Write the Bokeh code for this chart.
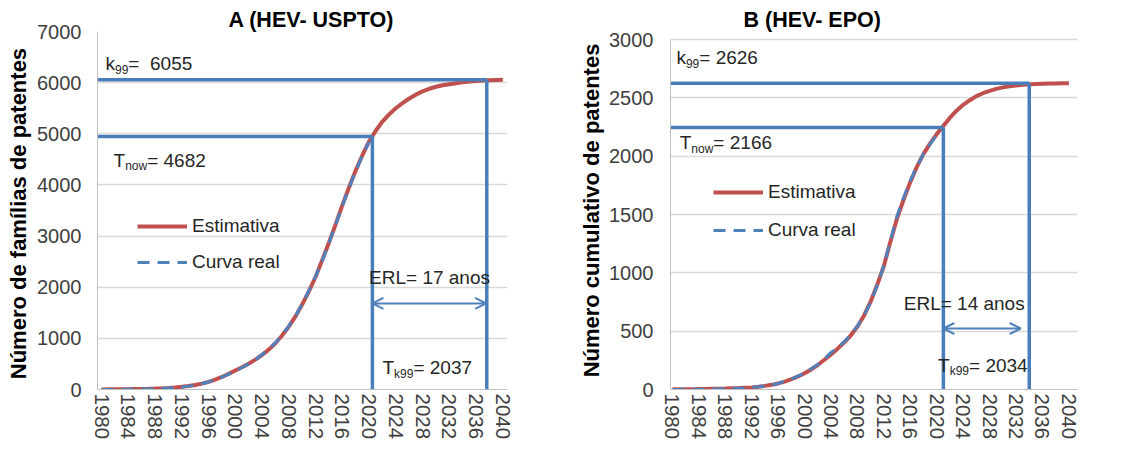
from bokeh.plotting import figure
from bokeh.layouts import row
from bokeh.models import Range1d, FixedTicker, Legend, LegendItem, Label, Arrow, OpenHead
from bokeh.embed import file_html
from bokeh.resources import INLINE

# ---------------- data ----------------
years = list(range(1980, 2041))
real_years = list(range(1980, 2021))
x_ticks = list(range(1980, 2041, 4))
y_ticks_a = list(range(0, 7001, 1000))
y_ticks_b = list(range(0, 3001, 500))

est_a = [2, 3, 4, 5, 7, 9, 11, 14, 18, 24,
         31, 40, 52, 68, 88, 115, 150, 195, 245, 305,
         370, 435, 505, 585, 675, 780, 905, 1055, 1230, 1430,
         1660, 1920, 2200, 2530, 2870, 3230, 3600, 3950, 4280, 4580,
         4850, 5060, 5240, 5380, 5500, 5600, 5690, 5765, 5830, 5880,
         5920, 5950, 5970, 5990, 6005, 6020, 6030, 6040, 6047, 6052,
         6055]
real_a = [0, 1, 2, 3, 5, 7, 9, 12, 16, 22,
          29, 38, 50, 66, 86, 112, 148, 190, 240, 300,
          362, 430, 500, 580, 685, 790, 915, 1060, 1240, 1440,
          1670, 1930, 2210, 2520, 2860, 3220, 3590, 3940, 4270, 4570,
          4840]

est_b = [2, 2, 3, 3, 4, 5, 6, 7, 8, 10,
         12, 15, 18, 24, 31, 40, 52, 68, 88, 112,
         140, 172, 210, 255, 300, 350, 405, 465, 540, 635,
         755, 900, 1060, 1270, 1470, 1630, 1780, 1910, 2020, 2110,
         2190, 2260, 2330, 2390, 2440, 2480, 2515, 2540, 2560, 2577,
         2590, 2600, 2607, 2612, 2616, 2619, 2621, 2623, 2624, 2625,
         2626]
real_b = [0, 0, 1, 1, 2, 3, 4, 5, 7, 9,
          11, 14, 18, 23, 30, 40, 52, 70, 90, 115,
          142, 178, 215, 262, 318, 355, 410, 470, 545, 635,
          750, 895, 1065, 1280, 1490, 1650, 1790, 1915, 2020, 2105,
          2180]

k99_a, tnow_a, tk99_a, erl_a = 6055, 4682, 2037, 17
k99_b, tnow_b, tk99_b, erl_b = 2626, 2166, 2034, 14

# ---------------- styling helpers ----------------
FONT = "Liberation Sans"
RED = "#c0504d"
BLUE = "#4f81bd"
GUIDE = "#4a7ebb"
TXT = "#262626"
H = 448

CW = {'k': .5, 'T': .611, 'n': .556, 'o': .556, 'w': .722, '9': .556, '=': .584,
      ' ': .278, '\u00a0': .278}


def tw(s, size):
    return sum(CW.get(c, .556) for c in s) * size


def sub_label(p, x, y, main, sub, rest, size=19, sub_size=12):
    p.add_layout(Label(x=x, y=y, text=main, text_font=FONT, text_font_size=f"{size}px",
                       text_color=TXT, text_baseline="middle"))
    w1 = tw(main, size)
    p.add_layout(Label(x=x, y=y, x_offset=w1, y_offset=-6, text=sub, text_font=FONT,
                       text_font_size=f"{sub_size}px", text_color=TXT, text_baseline="middle"))
    w2 = tw(sub, sub_size)
    p.add_layout(Label(x=x, y=y, x_offset=w1 + w2, text=rest, text_font=FONT,
                       text_font_size=f"{size}px", text_color=TXT, text_baseline="middle"))


def make_panel(title, ylabel, est, real, y_ticks, ymax, ytop, xr, width, borders,
               title_off, lab_std, ax_std):
    p = figure(width=width, height=H, output_backend="svg", toolbar_location=None,
               x_range=Range1d(*xr), y_range=Range1d(0, ytop),
               min_border_left=borders[0], min_border_right=borders[1],
               min_border_top=borders[2], min_border_bottom=borders[3])
    p.outline_line_color = None
    p.background_fill_color = "white"
    p.border_fill_color = "white"

    p.title.text = title
    p.title.text_font = FONT
    p.title.text_font_size = "21.5px"
    p.title.text_font_style = "bold"
    p.title.text_color = "black"
    p.title.align = "left"
    p.title.offset = title_off
    p.title.standoff = 0
    p.title.text_line_height = 1.0

    p.xgrid.grid_line_color = None
    p.ygrid.grid_line_color = "#d9d9d9"
    p.ygrid.grid_line_width = 1.3
    p.ygrid.ticker = FixedTicker(ticks=y_ticks)

    p.xaxis.ticker = FixedTicker(ticks=x_ticks)
    p.xaxis.major_label_orientation = "vertical"
    p.yaxis.ticker = FixedTicker(ticks=y_ticks)
    p.yaxis.bounds = (0, ymax)
    for ax in (p.xaxis, p.yaxis):
        ax.major_label_text_font = FONT
        ax.major_label_text_color = "#404040"
        ax.major_label_text_line_height = 1.0
        ax.major_tick_line_color = None
        ax.minor_tick_line_color = None
        ax.major_tick_out = 0
        ax.major_tick_in = 0
        ax.minor_tick_out = 0
        ax.axis_line_color = "#bfbfbf"
    p.xaxis.major_label_text_font_size = "20.5px"
    p.yaxis.major_label_text_font_size = "20px"
    p.xaxis.major_label_standoff = 4
    p.yaxis.major_label_standoff = lab_std
    p.yaxis.axis_label = ylabel
    p.yaxis.axis_label_text_font = FONT
    p.yaxis.axis_label_text_font_size = "22px"
    p.yaxis.axis_label_text_font_style = "bold"
    p.yaxis.axis_label_text_color = "black"
    p.yaxis.axis_label_standoff = ax_std

    r_est = p.line(years, est, line_color=RED, line_width=4)
    r_real = p.line(real_years, real, line_color=BLUE, line_width=3, line_dash="12 8")
    return p, r_est, r_real


def legend(p, r_est, r_real, loc, spacing):
    lg = Legend(items=[LegendItem(label="Estimativa", renderers=[r_est]),
                       LegendItem(label="Curva real", renderers=[r_real])],
                location=loc, glyph_width=50, glyph_height=22, spacing=spacing,
                padding=0, margin=0, label_standoff=5, border_line_alpha=0,
                background_fill_alpha=0, label_text_font=FONT,
                label_text_font_size="19px", label_text_color=TXT)
    p.add_layout(lg)


def guides(p, x0, now_x, k_x, now_y, k_y, arrow_y, arrow_x1):
    p.segment(x0=[x0, x0, now_x, k_x], y0=[k_y, now_y, 0, 0],
              x1=[k_x, now_x, now_x, k_x], y1=[k_y, now_y, now_y, k_y],
              line_color=GUIDE, line_width=3.5)
    p.add_layout(Arrow(start=OpenHead(size=11, line_color=BLUE, line_width=2),
                       end=OpenHead(size=11, line_color=BLUE, line_width=2),
                       x_start=now_x, y_start=arrow_y, x_end=arrow_x1, y_end=arrow_y,
                       line_color=BLUE, line_width=2))


# ---------------- panel A ----------------
xa = (1979.4, 2040.7)
pa, ea, ra = make_panel("A (HEV- USPTO)", "Número de famílias de  patentes", est_a, real_a,
                        y_ticks_a, 7000, 7000, xa, 563, (97, 56, 31, 59), 131, 16, 3)
guides(pa, xa[0], 2020.5, tk99_a + 0.6, 4947, k99_a, 1682, tk99_a + 0.5)
legend(pa, ea, ra, (40, 116), 14)
sub_label(pa, 1980.6, 6375, "k", "99", f"=\u00a0\u00a0{k99_a}")
sub_label(pa, 1981.8, 4478, "T", "now", f"= {tnow_a}")
pa.add_layout(Label(x=2020.0, y=2190, text=f"ERL= {erl_a} anos", text_font=FONT,
                    text_font_size="19px", text_color=TXT, text_baseline="middle"))
sub_label(pa, 2022.0, 430, "T", "k99", f"= {tk99_a}")

# ---------------- panel B ----------------
xb = (1979.7, 2041.3)
pb, eb, rb = make_panel("B (HEV- EPO)", "Número cumulativo de patentes", est_b, real_b,
                        y_ticks_b, 3000, 3069, xb, 557, (107, 43, 31, 59), 73, 17, 2)
guides(pb, xb[0], 2021.0, tk99_b, 2246, k99_b, 523, tk99_b - 1.3)
legend(pb, eb, rb, (43, 148), 16)
sub_label(pb, 1980.6, 2846, "k", "99", f"= {k99_b}")
sub_label(pb, 1981.1, 2117, "T", "now", f"= {tnow_b}")
pb.add_layout(Label(x=2015.0, y=737, text=f"ERL= {erl_b} anos", text_font=FONT,
                    text_font_size="19px", text_color=TXT, text_baseline="middle"))
sub_label(pb, 2020.2, 206, "T", "k99", f"= {tk99_b}")

layout = row(pa, pb)
open("out.html", "w").write(file_html(layout, INLINE))
